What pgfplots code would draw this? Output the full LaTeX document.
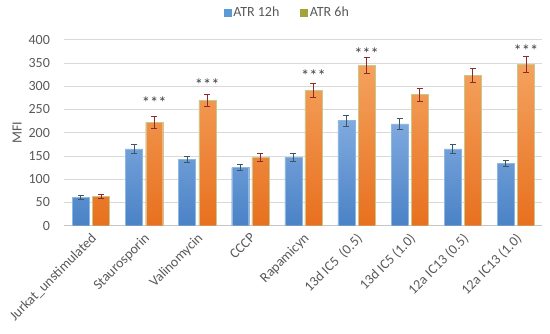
\documentclass[border=0pt]{standalone}
\usepackage{pgfplots}
\pgfplotsset{compat=1.18}
\usepackage{pgfplotstable}
\usepackage{fontspec}
\setmainfont{Carlito}
\definecolor{txt}{HTML}{595959}
\definecolor{btop}{HTML}{80AADF}
\definecolor{bbot}{HTML}{4A82C6}
\definecolor{otop}{HTML}{F4A25E}
\definecolor{obot}{HTML}{E8701F}
\definecolor{olive}{HTML}{A5A23A}
\definecolor{bluebar}{HTML}{5B9BD5}
\definecolor{berr}{HTML}{3E5660}
\definecolor{oerr}{HTML}{8E2A2A}

\pgfplotstableread{
x a ea b eb
0 61 4 63 4
1 165 9 222 12
2 143 7 270 13
3 125 7 147 8
4 147 8 291 15
5 226 12 345 18
6 219 11 282 14
7 165 9 324 15
8 134 7 347 17
}\data

\begin{document}
\begin{tikzpicture}[font=\fontsize{14}{16}\selectfont]
\begin{axis}[
  scale only axis, width=478pt, height=186pt,
  xmin=-0.5, xmax=8.5, ymin=0, ymax=400,
  xtick={0,...,8},
  xticklabels={Jurkat\_unstimulated, Staurosporin, Valinomycin, CCCP, Rapamicyn, 13d IC5~~(0.5), 13d IC5 (1.0), 12a IC13 (0.5), 12a IC13 (1.0)},
  x tick label style={rotate=45, anchor=north east, inner sep=1pt, xshift=-4pt, yshift=-3pt, text=txt, font=\fontsize{14}{16}\selectfont},
  ytick={0,50,...,400},
  y tick label style={text=txt, font=\fontsize{14}{16}\selectfont, xshift=-11pt},
  /pgf/number format/assume math mode=true,
  ymajorgrids, grid style={gray!30, line width=0.6pt},
  axis lines*=left,
  y axis line style={draw=none},
  x axis line style={gray!45, line width=0.6pt},
  major tick length=0pt,
  ylabel={MFI}, ylabel style={text=txt, font=\fontsize{14}{16}\selectfont},
  ylabel shift=0pt,
  legend style={at={(0.5,1)}, anchor=center, xshift=-16pt, yshift=27pt, draw=none, fill=none,
    legend columns=2, text=txt, font=\fontsize{14}{16}\selectfont,
    /tikz/every even column/.append style={column sep=19pt}},
  legend cell align=left,
]
\coordinate (o) at (rel axis cs:0,0);
\addplot[ybar, bar width=17pt, bar shift=0pt, draw=bluebar!70, line width=0.3pt,
  top color=btop, bottom color=bbot, forget plot,
  error bars/.cd, y dir=both, y explicit,
  error bar style={line width=0.8pt, color=berr},
  error mark options={rotate=90, mark size=3pt, line width=0.8pt, color=berr}]
  table[x expr=\thisrow{x}-0.19, y=a, y error=ea] {\data};
\addplot[ybar, bar width=17pt, bar shift=0pt, draw=olive!60, line width=0.3pt,
  top color=otop, bottom color=obot, forget plot,
  error bars/.cd, y dir=both, y explicit,
  error bar style={line width=0.8pt, color=oerr},
  error mark options={rotate=90, mark size=3pt, line width=0.8pt, color=oerr}]
  table[x expr=\thisrow{x}+0.19, y=b, y error=eb] {\data};
\addplot[only marks, mark=none, forget plot, nodes near coords, point meta=explicit symbolic,
  nodes near coords style={anchor=center, text=black!75, inner sep=0pt, font=\fontsize{16.5}{16}\selectfont}]
  coordinates {(1.19,264)[***] (2.19,303)[***] (4.19,323)[***] (5.19,371)[***] (8.19,377)[***]};
\addlegendimage{legend image code/.code={\fill[bluebar] (0pt,-3.5pt) rectangle (7pt,3.5pt);}}
\addlegendentry{ATR 12h}
\addlegendimage{legend image code/.code={\fill[olive] (0pt,-3.5pt) rectangle (7pt,3.5pt);}}
\addlegendentry{ATR 6h}
\end{axis}
\pgfresetboundingbox
\path (o) ++(-64.4pt,-108.3pt) rectangle ++(550pt,334pt);
\end{tikzpicture}
\end{document}
